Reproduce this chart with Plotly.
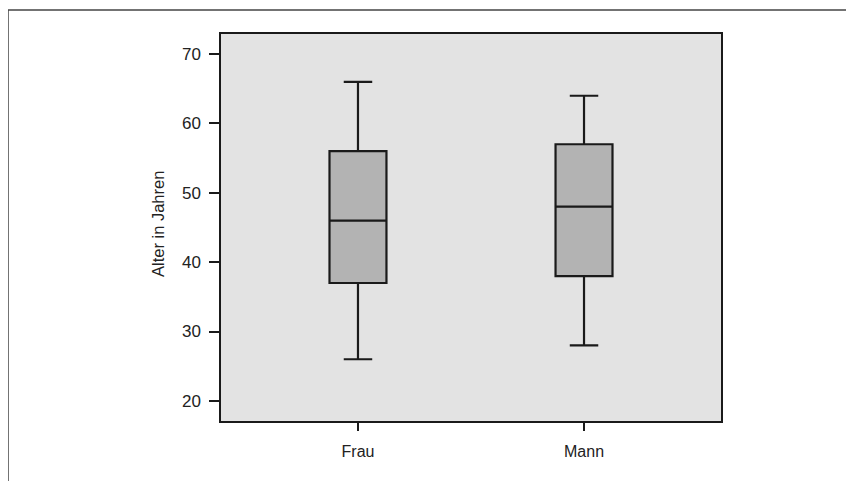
import plotly.graph_objects as go

categories = ["Frau", "Mann"]
lower = [26, 28]
q1 = [37, 38]
median = [46, 48]
q3 = [56, 57]
upper = [66, 64]
y_ticks = [20, 30, 40, 50, 60, 70]

fig = go.Figure()
fig.add_trace(go.Box(
    x=categories, q1=q1, median=median, q3=q3,
    lowerfence=lower, upperfence=upper,
    fillcolor="#b3b3b3", line=dict(color="#1a1a1a", width=2.2),
    whiskerwidth=0.5, width=0.252, boxpoints=False, hoverinfo="skip",
))

# page body has an 8px margin; figure coordinates are offset by it
OFF = 8
W, H = 854 - OFF, 481 - OFF
L, T = 221 - OFF, 34 - OFF
pw, ph = 500, 387
R, B = W - L - pw, H - T - ph
fig.update_layout(
    width=W, height=H,
    margin=dict(l=L, r=R, t=T, b=B),
    paper_bgcolor="white", plot_bgcolor="#e3e3e3",
    font=dict(family="Liberation Sans, Arial", size=17, color="#222"),
    showlegend=False,
    xaxis=dict(range=[-0.606, 1.606], showline=True, linecolor="#1a1a1a", linewidth=1.5,
               mirror=True, ticks="outside", ticklen=8, tickwidth=2, tickcolor="#1a1a1a",
               showgrid=False, zeroline=False, tickfont=dict(size=16),
               ticklabelstandoff=7),
    yaxis=dict(range=[17.1, 72.9], tickvals=y_ticks, showline=True, linecolor="#1a1a1a",
               linewidth=1.5, mirror=True, ticks="outside", ticklen=10, tickwidth=2,
               tickcolor="#1a1a1a", showgrid=False, zeroline=False,
               tickfont=dict(size=17), ticklabelstandoff=5),
)

fig.add_annotation(text="Alter in Jahren", xref="paper", yref="paper",
                   x=(158 - 221) / pw, y=(421 - 224) / ph, textangle=-90,
                   showarrow=False, font=dict(size=16.5, color="#222"),
                   xanchor="center", yanchor="middle")

x_left = (8 - 221) / pw
x_right = (854 - 221) / pw
y_top = 1 + (34 - 10) / ph
y_bot = -(481 - 421) / ph
fig.add_shape(type="line", xref="paper", yref="paper", x0=x_left, x1=x_right, y0=y_top, y1=y_top,
              line=dict(color="#444", width=1.5))
fig.add_shape(type="line", xref="paper", yref="paper", x0=x_left, x1=x_left, y0=y_top, y1=y_bot,
              line=dict(color="#444", width=1.5))

fig.write_html("out.html")
